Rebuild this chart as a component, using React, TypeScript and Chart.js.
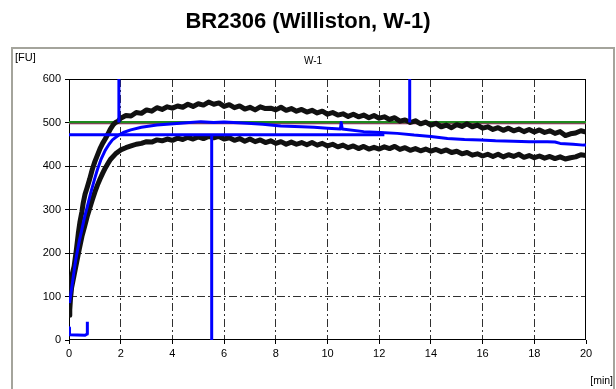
import React, { useEffect, useRef } from "react";
import { Chart, registerables } from "chart.js";

Chart.register(...registerables);

const TITLE = "BR2306 (Williston, W-1)";
const SUBTITLE = "W-1";
const Y_UNIT = "[FU]";
const X_UNIT = "[min]";

const X_MIN = 0;
const X_MAX = 20;
const X_STEP = 2;
const Y_MIN = 0;
const Y_MAX = 600;
const Y_STEP = 100;

// Upper edge of the consistency band (black)
const upperTime = [
  0, 0.03, 0.06, 0.12, 0.2, 0.28, 0.36, 0.42, 0.5, 0.55, 0.62, 0.7, 0.8, 0.9, 1.0, 1.1, 1.2, 1.3, 1.4, 1.5, 1.6, 1.7, 1.8, 1.9,
  2.0, 2.2, 2.4, 2.6, 2.8, 3.0, 3.2, 3.4, 3.6, 3.8,
  4.0, 4.2, 4.4, 4.6, 4.8, 5.0, 5.2, 5.4, 5.6, 5.8,
  6.0, 6.2, 6.4, 6.6, 6.8, 7.0, 7.2, 7.4, 7.6, 7.8,
  8.0, 8.2, 8.4, 8.6, 8.8, 9.0, 9.2, 9.4, 9.6, 9.8,
  10.0, 10.2, 10.4, 10.6, 10.8, 11.0, 11.2, 11.4, 11.6, 11.8,
  12.0, 12.2, 12.4, 12.6, 12.8, 13.0, 13.2, 13.4, 13.6, 13.8,
  14.0, 14.2, 14.4, 14.6, 14.8, 15.0, 15.2, 15.4, 15.6, 15.8,
  16.0, 16.2, 16.4, 16.6, 16.8, 17.0, 17.2, 17.4, 17.6, 17.8,
  18.0, 18.2, 18.4, 18.6, 18.8, 19.0, 19.2, 19.4, 19.6, 19.8,
  20.0,
];
const upperFU = [
  57, 100, 138, 150, 170, 205, 245, 270, 295, 315, 335, 350, 370, 392, 410, 425, 440, 452, 462, 473, 485, 494, 500, 503,
  510, 516, 515, 523, 521, 529, 526, 534, 530, 536,
  533, 538, 535, 542, 537, 543, 540, 547, 542, 545,
  537, 541, 534, 538, 531, 535, 529, 536, 532, 533,
  529, 535, 528, 532, 526, 530, 524, 528, 522, 526,
  519, 523, 517, 520, 514, 519, 513, 517, 511, 516,
  510, 513, 507, 511, 503, 506, 500, 504, 497, 501,
  494, 498, 490, 494, 488, 495, 491, 497, 490, 494,
  487, 490, 484, 488, 482, 487, 481, 485, 479, 484,
  478, 483, 477, 481, 475, 479, 470, 474, 476, 481,
  478,
];

// Lower edge of the consistency band (black)
const lowerTime = [
  0, 0.05, 0.1, 0.2, 0.3, 0.4, 0.5, 0.6, 0.7, 0.8, 0.9, 1.0, 1.1, 1.2, 1.3, 1.4, 1.5, 1.6, 1.8,
  2.0, 2.2, 2.4, 2.6, 2.8, 3.0, 3.2, 3.4, 3.6, 3.8,
  4.0, 4.2, 4.4, 4.6, 4.8, 5.0, 5.2, 5.4, 5.6, 5.8,
  6.0, 6.2, 6.4, 6.6, 6.8, 7.0, 7.2, 7.4, 7.6, 7.8,
  8.0, 8.2, 8.4, 8.6, 8.8, 9.0, 9.2, 9.4, 9.6, 9.8,
  10.0, 10.2, 10.4, 10.6, 10.8, 11.0, 11.2, 11.4, 11.6, 11.8,
  12.0, 12.2, 12.4, 12.6, 12.8, 13.0, 13.2, 13.4, 13.6, 13.8,
  14.0, 14.2, 14.4, 14.6, 14.8, 15.0, 15.2, 15.4, 15.6, 15.8,
  16.0, 16.2, 16.4, 16.6, 16.8, 17.0, 17.2, 17.4, 17.6, 17.8,
  18.0, 18.2, 18.4, 18.6, 18.8, 19.0, 19.2, 19.4, 19.6, 19.8,
  20.0,
];
const lowerFU = [
  57, 90, 120, 150, 180, 210, 238, 260, 283, 303, 322, 340, 356, 370, 383, 395, 405, 415, 428,
  437, 442, 446, 450, 452, 456, 455, 460, 458, 462,
  459, 464, 461, 466, 462, 467, 463, 468, 465, 468,
  462, 465, 459, 463, 457, 462, 456, 460, 454, 458,
  452, 456, 450, 455, 450, 454, 449, 454, 448, 452,
  446, 450, 444, 448, 442, 446, 440, 445, 439, 443,
  439, 444, 440, 445, 438, 442, 436, 440, 435, 439,
  434, 438, 433, 437, 431, 434, 428, 431, 425, 428,
  423, 427, 422, 427, 421, 426, 422, 427, 420, 424,
  419, 423, 418, 422, 417, 421, 416, 419, 421, 426,
  424,
];

// Median curve (blue)
const medianTime = [
  0.02, 0.1, 0.2, 0.26, 0.4, 0.52, 0.6, 0.7, 0.84, 1.0, 1.1, 1.23, 1.4, 1.55, 1.68, 1.9, 2.1, 2.39, 2.8, 3.4,
  4.3, 5.1, 5.6, 6.0, 6.9, 7.5, 8.19, 9.0, 9.48, 10.0, 10.5, 10.53, 10.57, 11.4, 12.06, 12.7, 13.35, 14.0,
  14.64, 15.3, 15.93, 16.5, 17.2, 17.8, 18.5, 18.8, 19.0, 19.5, 19.9, 20.0,
];
const medianFU = [
  85, 118, 160, 184, 228, 260, 282, 305, 338, 372, 392, 414, 436, 450, 460, 470, 477, 483, 489, 494,
  498, 502, 500, 501, 498, 496, 492, 490, 489, 487, 485, 500, 485, 479, 477, 475, 471, 468,
  463, 461, 460, 458, 457, 456, 456, 455, 452, 450, 448, 448,
];

// Initial low trace (blue)
const startTime = [0, 0.02, 0.62, 0.7, 0.71];
const startFU = [28, 12, 11, 14, 42];

// Reference lines
const TARGET_FU = 500;
const TARGET_LOW_FU = 497;
const CONSISTENCY_FU = 472;
const CONSISTENCY_END = 12.2;

// Vertical markers (time, from FU, to FU)
const markerTime = [1.93, 5.52, 13.18];
const markerFrom = [500, 0, 500];
const markerTo = [600, 472, 600];

const BLUE = "#0000ff";
const BLACK = "#111111";
const GREEN = "#1e8a1e";
const MAROON = "#a0306a";
const FONT = "'Liberation Sans', Arial, sans-serif";

export default function App() {
  const ref = useRef<HTMLCanvasElement>(null);

  useEffect(() => {
    const pts = (t: number[], v: number[]) =>
      t.slice(0, Math.min(t.length, v.length)).map((x, i) => ({ x, y: v[i] }));

    const lineDs = (label: string, data: { x: number; y: number }[], color: string, width: number) => ({
      label,
      data,
      borderColor: color,
      backgroundColor: color,
      borderWidth: width,
      pointRadius: 0,
      pointHoverRadius: 0,
      tension: 0,
      fill: false,
      borderJoinStyle: "round" as const,
      borderCapStyle: "butt" as const,
    });

    const markers = markerTime.map((t, i) =>
      lineDs("marker" + i, [{ x: t, y: markerFrom[i] }, { x: t, y: markerTo[i] }], BLUE, 3)
    );

    const framePlugin = {
      id: "frame",
      beforeDatasetsDraw(chart: any) {
        const { ctx, chartArea } = chart;
        const l = Math.round(chartArea.left) + 0.5;
        const t = Math.round(chartArea.top) + 0.5;
        const r = Math.round(chartArea.right) - 0.5;
        const b = Math.round(chartArea.bottom) - 0.5;
        ctx.save();
        ctx.strokeStyle = "#000";
        ctx.lineWidth = 1;
        ctx.strokeRect(l, t, r - l, b - t);
        ctx.restore();
      },
    };

    const textPlugin = {
      id: "texts",
      afterDraw(chart: any) {
        const { ctx } = chart;
        ctx.save();
        ctx.strokeStyle = "#a4a49c";
        ctx.lineWidth = 2;
        ctx.beginPath();
        ctx.moveTo(12, 400);
        ctx.lineTo(12, 48);
        ctx.lineTo(614, 48);
        ctx.lineTo(614, 400);
        ctx.stroke();

        ctx.fillStyle = "#000";
        ctx.textBaseline = "middle";
        ctx.textAlign = "center";
        ctx.font = `bold 22px ${FONT}`;
        ctx.fillText(TITLE, 308, 22);

        ctx.font = `10px ${FONT}`;
        ctx.fillText(SUBTITLE, 313, 61);

        ctx.textAlign = "left";
        ctx.font = `11px ${FONT}`;
        ctx.fillText(Y_UNIT, 15, 58);

        ctx.textAlign = "right";
        ctx.font = `10.5px ${FONT}`;
        ctx.fillText(X_UNIT, 613, 381);
        ctx.restore();
      },
    };

    const chart = new Chart(ref.current!, {
      type: "line",
      data: {
        datasets: [
          ...markers,
          lineDs("median", pts(medianTime, medianFU), BLUE, 3),
          lineDs("start", pts(startTime, startFU), BLUE, 3),
          lineDs("consistency", [{ x: X_MIN, y: CONSISTENCY_FU }, { x: CONSISTENCY_END, y: CONSISTENCY_FU }], BLUE, 3),
          lineDs("upper", pts(upperTime, upperFU), BLACK, 5),
          lineDs("lower", pts(lowerTime, lowerFU), BLACK, 5),
          lineDs("targetLow", [{ x: X_MIN, y: TARGET_LOW_FU }, { x: X_MAX, y: TARGET_LOW_FU }], MAROON, 1),
          lineDs("target", [{ x: X_MIN, y: TARGET_FU }, { x: X_MAX, y: TARGET_FU }], GREEN, 3),
        ] as any,
      },
      options: {
        responsive: false,
        animation: false,
        events: [],
        layout: { padding: { left: 0, right: 30, top: 79, bottom: 19 } },
        plugins: { legend: { display: false }, tooltip: { enabled: false }, title: { display: false } },
        scales: {
          x: {
            type: "linear",
            min: X_MIN,
            max: X_MAX,
            afterFit: (s: any) => {
              s.height = 30;
            },
            ticks: {
              stepSize: X_STEP,
              color: "#000",
              font: { family: FONT, size: 11 },
              padding: 3,
              maxRotation: 0,
            },
            grid: {
              color: (c: any) =>
                c.tick && (c.tick.value === X_MIN || c.tick.value === X_MAX) ? "rgba(0,0,0,0)" : "#303030",
              lineWidth: 1,
              tickLength: 4,
              tickColor: "#000",
              tickWidth: 1,
            },
            border: { display: false, dash: [8, 3, 2, 3] },
          },
          y: {
            type: "linear",
            min: Y_MIN,
            max: Y_MAX,
            afterFit: (s: any) => {
              s.width = 69;
            },
            ticks: {
              stepSize: Y_STEP,
              color: "#000",
              font: { family: FONT, size: 11 },
              padding: 4,
            },
            grid: {
              color: (c: any) =>
                c.tick && (c.tick.value === Y_MIN || c.tick.value === Y_MAX) ? "rgba(0,0,0,0)" : "#303030",
              lineWidth: 1,
              tickLength: 4,
              tickColor: "#000",
              tickWidth: 1,
            },
            border: { display: false, dash: [8, 3, 2, 3] },
          },
        },
      },
      plugins: [framePlugin, textPlugin],
    });
    return () => chart.destroy();
  }, []);

  return (
    <div style={{ position: "fixed", left: 0, top: 0, width: 616, height: 389, background: "#fff" }}>
      <canvas ref={ref} width={616} height={389} style={{ display: "block" }} />
    </div>
  );
}
